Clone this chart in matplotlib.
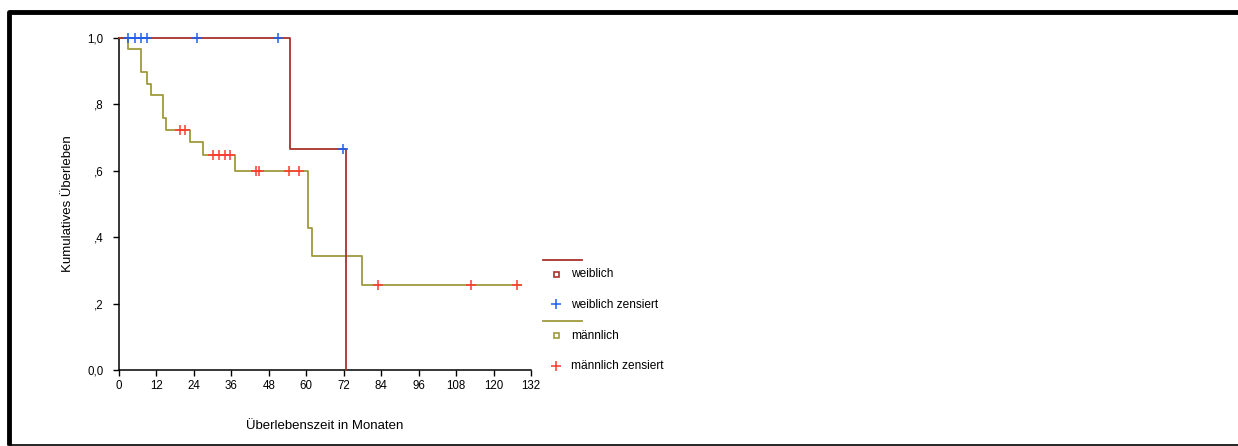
import numpy as np
import matplotlib
matplotlib.use("Agg")
import matplotlib.pyplot as plt
from matplotlib.patches import Rectangle

plt.rcParams['font.family'] = ['Liberation Sans', 'DejaVu Sans']

# Kaplan-Meier steps (time in months, survival after the step)
w_times = [0, 54.8, 72.8]
w_surv = [1.0, 0.667, 0.0]
w_cens_t = [2.8, 5.1, 7.2, 9.0, 25.0, 51.1, 71.8]
w_cens_s = [1.0, 1.0, 1.0, 1.0, 1.0, 1.0, 0.667]

m_times = [0, 2.8, 7.1, 8.9, 10.2, 14.1, 14.9, 22.8, 26.8, 37.2, 60.7, 61.7, 77.9]
m_surv = [1.0, 0.966, 0.897, 0.862, 0.828, 0.759, 0.724, 0.686, 0.648, 0.598, 0.427, 0.342, 0.256]
m_end = 128.8
m_cens_t = [19.5, 21.2, 30.2, 32.0, 34.0, 35.7, 44.0, 44.7, 54.6, 57.8, 82.9, 112.7, 127.4]
m_cens_s = [0.724, 0.724, 0.648, 0.648, 0.648, 0.648, 0.598, 0.598, 0.598, 0.598, 0.256, 0.256, 0.256]

xticks = np.arange(0, 133, 12)
yticks = [0.0, 0.2, 0.4, 0.6, 0.8, 1.0]
ytick_labels = ['0,0', ',2', ',4', ',6', ',8', '1,0']

c_w = '#a8322a'
c_m = '#9e9a3c'
c_wc = '#1f5ff0'
c_mc = '#ff3b2f'

W, H = 1238, 446
fig = plt.figure(figsize=(W / 100, H / 100), dpi=100)
ax = fig.add_axes([119 / W, 1 - 370 / H, (531 - 119) / W, (370 - 38) / H])

# female curve
ax.step(w_times, w_surv, where='post', color=c_w, lw=1.3, clip_on=False, zorder=3)
# male curve
ax.step(m_times + [m_end], m_surv + [m_surv[-1]], where='post', color=c_m, lw=1.3,
        clip_on=False, zorder=2)

ax.plot(w_cens_t, w_cens_s, ls='none', marker='+', ms=7, mew=1.1, color=c_wc,
        clip_on=False, zorder=4)
ax.plot(m_cens_t, m_cens_s, ls='none', marker='+', ms=7, mew=1.1, color=c_mc,
        clip_on=False, zorder=4)

ax.set_xlim(0, 132)
ax.set_ylim(0, 1)
ax.set_xticks(xticks)
ax.set_xticklabels([str(t) for t in xticks])
ax.set_yticks(yticks)
ax.set_yticklabels(ytick_labels)
ax.tick_params(axis='x', labelsize=8.3, length=4, width=1, pad=3)
ax.tick_params(axis='y', labelsize=8.3, length=4.3, width=1, pad=7)
ax.spines['top'].set_visible(False)
ax.spines['right'].set_visible(False)
ax.spines['left'].set_linewidth(1.1)
ax.spines['bottom'].set_linewidth(1.1)

ax.set_xlabel('Überlebenszeit in Monaten', fontsize=9.5, labelpad=20.5)
ax.set_ylabel('Kumulatives Überleben', fontsize=9.5, labelpad=9.5)

# overlay in pixel coords for frame and legend
ov = fig.add_axes([0, 0, 1, 1], zorder=-1)
ov.set_xlim(0, W)
ov.set_ylim(H, 0)
ov.axis('off')
ov.plot([9, 9, W], [H - 1.5, 12, 12], color='black', lw=3.5, solid_capstyle='butt')
ov.plot([9, W], [H - 1, H - 1], color='black', lw=1.2)

leg = fig.add_axes([0, 0, 1, 1], zorder=5)
leg.set_xlim(0, W)
leg.set_ylim(H, 0)
leg.axis('off')
leg.patch.set_alpha(0)
fs = 8.6
leg.plot([543, 582], [260, 260], color=c_w, lw=1.3)
leg.add_patch(Rectangle((553.5, 271.5), 5, 5, fill=False, edgecolor=c_w, lw=1.2))
leg.text(571, 274, 'weiblich', fontsize=fs, va='center')
leg.plot([556], [304], marker='+', ms=7, mew=1.1, color=c_wc)
leg.text(571, 305, 'weiblich zensiert', fontsize=fs, va='center')
leg.plot([543, 582], [321, 321], color=c_m, lw=1.3)
leg.add_patch(Rectangle((553.5, 332.5), 5, 5, fill=False, edgecolor=c_m, lw=1.2))
leg.text(571, 336, 'männlich', fontsize=fs, va='center')
leg.plot([556], [366], marker='+', ms=7, mew=1.1, color=c_mc)
leg.text(571, 366, 'männlich zensiert', fontsize=fs, va='center')

fig.savefig('out.png', dpi=100)
